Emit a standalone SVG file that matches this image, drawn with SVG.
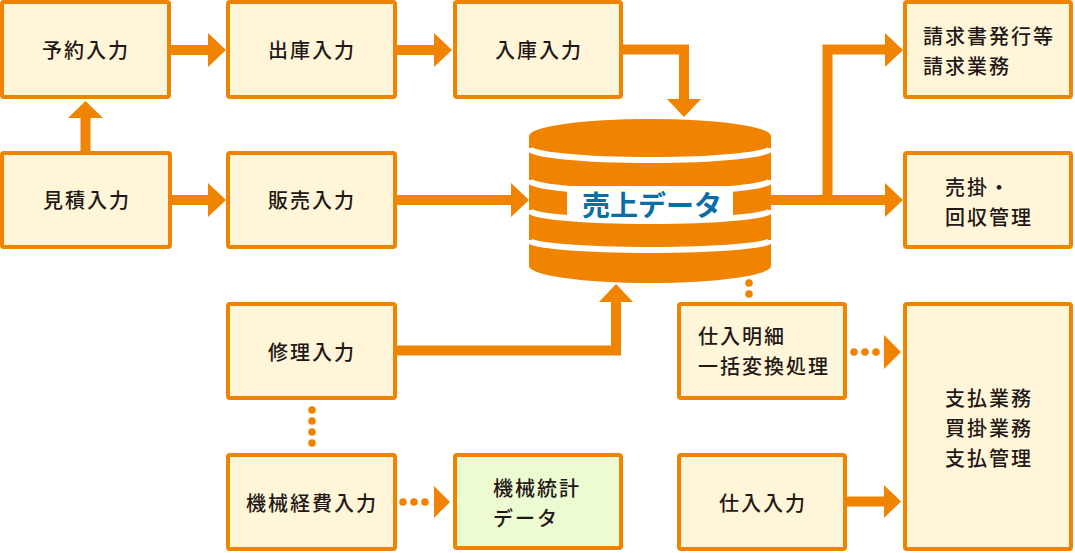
<svg xmlns="http://www.w3.org/2000/svg" width="1075" height="553" viewBox="0 0 1075 553">
<style>
.box{fill:#fff6da;stroke:#f08300;stroke-width:4}
.green{fill:#ecfbd2}
.t{font-family:"Noto Sans CJK JP","Noto Sans",sans-serif;font-size:20px;font-weight:500;fill:#231815;letter-spacing:2px}
.c{text-anchor:middle}
.ln{fill:none;stroke:#f08300;stroke-width:10;stroke-linejoin:miter}
.hd{fill:#f08300}
.dot{fill:#f08300}
.stripe{fill:none;stroke:#fff;stroke-width:6}
</style>
<g id="connectors">
<path class="ln" d="M171,50H209"/><polygon class="hd" points="208,33 226,50 208,67"/>
<path class="ln" d="M397,50H435"/><polygon class="hd" points="434,33 452,50 434,67"/>
<path class="ln" d="M85.5,151V117"/><polygon class="hd" points="68,118 85.5,101 103,118"/>
<path class="ln" d="M172,200H209"/><polygon class="hd" points="208,183 226,200 208,217"/>
<path class="ln" d="M397,200H512"/><polygon class="hd" points="511,183 529,200 511,217"/>
<path class="ln" d="M623,49.5H684V100"/><polygon class="hd" points="667,99 684,117 701,99"/>
<path class="ln" d="M771,200H886"/><polygon class="hd" points="885,183 903,200 885,217"/>
<path class="ln" d="M827.5,200V49.5H886"/><polygon class="hd" points="885,33 903,50 885,67"/>
<path class="ln" d="M397,350.5H616V301"/><polygon class="hd" points="599,302 616,284 633,302"/>
<path class="ln" d="M847,501.5H886"/><polygon class="hd" points="884,485 901,501.5 884,518"/>
<circle class="dot" cx="312" cy="410" r="3.8"/><circle class="dot" cx="312" cy="421" r="3.8"/><circle class="dot" cx="312" cy="432" r="3.8"/><circle class="dot" cx="312" cy="443" r="3.8"/>
<circle class="dot" cx="403" cy="502" r="3.8"/><circle class="dot" cx="414" cy="502" r="3.8"/><circle class="dot" cx="425" cy="502" r="3.8"/>
<polygon class="hd" points="434,486 450,502 434,518"/>
<circle class="dot" cx="749" cy="283" r="3.8"/><circle class="dot" cx="749" cy="294" r="3.8"/>
<circle class="dot" cx="854" cy="352" r="3.8"/><circle class="dot" cx="865" cy="352" r="3.8"/><circle class="dot" cx="876" cy="352" r="3.8"/>
<polygon class="hd" points="884,335 901,352 884,369"/>
</g>
<g id="yoyaku"><rect class="box" x="2" y="2" width="167" height="95" rx="2"/><text class="t c" x="86" y="57.5">予約入力</text></g>
<g id="shukko"><rect class="box" x="228" y="2" width="167" height="95" rx="2"/><text class="t c" x="312" y="57.5">出庫入力</text></g>
<g id="nyuko"><rect class="box" x="455" y="2" width="166" height="95" rx="2"/><text class="t c" x="539" y="57.5">入庫入力</text></g>
<g id="mitsumori"><rect class="box" x="2" y="153" width="168" height="94" rx="2"/><text class="t c" x="87" y="207.5">見積入力</text></g>
<g id="hanbai"><rect class="box" x="228" y="153" width="167" height="94" rx="2"/><text class="t c" x="312" y="207.5">販売入力</text></g>
<g id="seikyu"><rect class="box" x="905" y="2" width="166" height="95" rx="2"/><text class="t" x="923" y="43.5">請求書発行等</text><text class="t" x="923" y="73.5">請求業務</text></g>
<g id="urikake"><rect class="box" x="905" y="153" width="166" height="94" rx="2"/><text class="t" x="945" y="195">売掛・</text><text class="t" x="945" y="225">回収管理</text></g>
<g id="shuri"><rect class="box" x="228" y="304" width="167" height="94" rx="2"/><text class="t c" x="312" y="360">修理入力</text></g>
<g id="shiire-meisai"><rect class="box" x="679" y="304" width="166" height="94" rx="2"/><text class="t" x="698" y="343.5">仕入明細</text><text class="t" x="698" y="373.5">一括変換処理</text></g>
<g id="shiharai"><rect class="box" x="905" y="304" width="166" height="245" rx="2"/><text class="t" x="945" y="405.5">支払業務</text><text class="t" x="945" y="435.5">買掛業務</text><text class="t" x="945" y="465.5">支払管理</text></g>
<g id="kikai-keihi"><rect class="box" x="228" y="455" width="167" height="94" rx="2"/><text class="t c" x="312" y="511">機械経費入力</text></g>
<g id="kikai-toukei"><rect class="box green" x="455" y="455" width="166" height="93" rx="2"/><text class="t" x="493" y="495.5">機械統計</text><text class="t" x="493" y="525.5">データ</text></g>
<g id="shiire"><rect class="box" x="679" y="455" width="166" height="94" rx="2"/><text class="t c" x="763" y="511">仕入入力</text></g>
<g id="uriage-data">
<path fill="#f08300" d="M529,136A121,17 0 0 1 771,136V266A121,17 0 0 1 529,266Z"/>
<path class="stripe" d="M529,148A121,12 0 0 0 771,148"/>
<path class="stripe" d="M529,180A121,12 0 0 0 771,180"/>
<path class="stripe" d="M529,210A121,11 0 0 0 771,210"/>
<path class="stripe" d="M529,240A121,10 0 0 0 771,240"/>
<rect x="567" y="186" width="166" height="32" fill="#fff"/>
<text x="652" y="215.5" text-anchor="middle" font-family="'Noto Sans CJK JP','Noto Sans',sans-serif" font-size="28" font-weight="bold" fill="#0a6ea6">売上データ</text>
</g>
</svg>
